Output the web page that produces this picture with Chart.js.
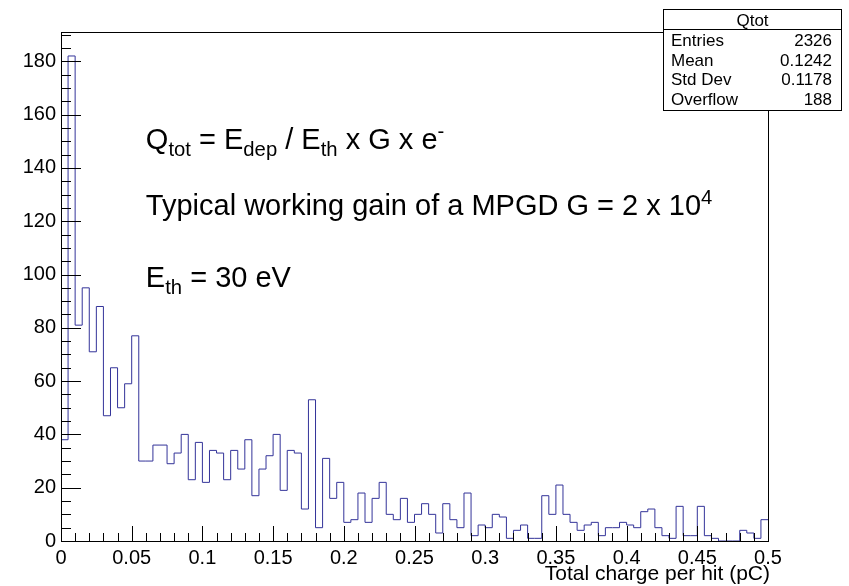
<!DOCTYPE html>
<html lang="en">
<head>
<meta charset="UTF-8">
<title>Qtot</title>
<script src="https://cdn.jsdelivr.net/npm/chart.js@4.4.1/dist/chart.umd.min.js"></script>
<style>
  html, body { margin: 0; padding: 0; background: #fff; }
  #wrap { width: 849px; height: 586px; }
</style>
</head>
<body>
<div id="wrap"><canvas id="myChart"></canvas></div>
<script>
// histogram: 100 bins from 0 to 0.5 pC
const binWidth = 0.005
const counts = [
  38, 182, 81, 95, 71, 88, 47, 65, 50, 59,
  77, 30, 30, 36, 36, 29, 33, 40, 23, 37,
  22, 34, 33, 23, 34, 27, 38, 17, 27, 32,
  40, 19, 34, 33, 12, 53, 5, 31, 16, 22,
  7, 8, 18, 7, 16, 22, 10, 8, 16, 7,
  10, 14, 10, 3, 14, 8, 5, 18, 2, 6,
  5, 10, 9, 1, 4, 6, 1, 1, 17, 10,
  21, 10, 7, 4, 6, 7, 2, 5, 5, 7,
  6, 5, 11, 12, 5, 2, 1, 13, 2, 2,
  13, 2, 1, 0, 0, 0, 4, 3, 1, 8
]
const xTicks = [0, 0.05, 0.1, 0.15, 0.2, 0.25, 0.3, 0.35, 0.4, 0.45, 0.5]
const xTickLabels = ['0', '0.05', '0.1', '0.15', '0.2', '0.25', '0.3', '0.35', '0.4', '0.45', '0.5']
const yTicks = [0, 20, 40, 60, 80, 100, 120, 140, 160, 180]
const yTickLabels = ['0', '20', '40', '60', '80', '100', '120', '140', '160', '180']
const xMinorStep = 0.01
const yMinorStep = 5
const yMax = 191

const statTitle = 'Qtot'
const statNames = ['Entries', 'Mean', 'Std Dev', 'Overflow']
const statValues = ['2326', '0.1242', '0.1178', '188']
const xTitle = 'Total charge per hit (pC)'

// annotation lines (sub / sup parts), placed in data coordinates
const noteX = 0.06
const noteY = [147, 122.5, 95.5]
const notes = [
  [['Q'], ['tot', 'sub'], [' = E'], ['dep', 'sub'], [' / E'], ['th', 'sub'], [' x G x e'], ['-', 'sup']],
  [['Typical working gain of a MPGD G = 2 x 10'], ['4', 'sup']],
  [['E'], ['th', 'sub'], [' = 30 eV']]
]

const FONT = '"Liberation Sans", Arial, Helvetica, sans-serif'

// step outline: one point per lower bin edge, plus the upper edge of the last bin
const points = counts.map((c, i) => ({ x: i * binWidth, y: c }))
points.push({ x: counts.length * binWidth, y: counts[counts.length - 1] })

function drawRich(ctx, x, y, parts, size) {
  let cx = x
  parts.forEach(p => {
    let fs = size, dy = 0
    if (p[1] === 'sub') { fs = size * 0.7; dy = 7 }
    if (p[1] === 'sup') { fs = size * 0.7; dy = -11 }
    ctx.font = fs + 'px ' + FONT
    ctx.fillText(p[0], cx, y + dy)
    cx += ctx.measureText(p[0]).width
  })
}

const rootFrame = {
  id: 'rootFrame',
  afterDatasetsDraw(chart) {
    const { ctx, chartArea: a, scales } = chart
    const xs = scales.x, ys = scales.y
    ctx.save()
    ctx.strokeStyle = '#000'
    ctx.fillStyle = '#000'
    ctx.lineWidth = 1

    ctx.strokeRect(Math.round(a.left) + 0.5, Math.round(a.top) + 0.5,
      Math.round(a.right - a.left), Math.round(a.bottom - a.top))

    // inward ticks
    ctx.beginPath()
    const nY = Math.floor(yMax / yMinorStep)
    for (let i = 0; i <= nY; i++) {
      const py = Math.round(ys.getPixelForValue(i * yMinorStep)) + 0.5
      const len = (i % 4 === 0) ? 20 : 10
      ctx.moveTo(a.left, py)
      ctx.lineTo(a.left + len, py)
    }
    const nX = Math.round(0.5 / xMinorStep)
    for (let i = 0; i <= nX; i++) {
      const px = Math.round(xs.getPixelForValue(i * xMinorStep)) + 0.5
      const len = (i % 5 === 0) ? 15 : 8
      ctx.moveTo(px, a.bottom)
      ctx.lineTo(px, a.bottom - len)
    }
    ctx.stroke()

    // axis title
    ctx.font = '21px ' + FONT
    ctx.textAlign = 'right'
    ctx.textBaseline = 'alphabetic'
    ctx.fillText(xTitle, a.right + 2, 580)

    // annotation text
    ctx.textAlign = 'left'
    notes.forEach((parts, k) => {
      drawRich(ctx, xs.getPixelForValue(noteX), ys.getPixelForValue(noteY[k]), parts, 29)
    })

    // stats box
    const bx = 663.5, by = 9.5, bw = 178, bh = 101
    ctx.fillStyle = '#fff'
    ctx.fillRect(bx, by, bw, bh)
    ctx.strokeRect(bx, by, bw, bh)
    ctx.beginPath()
    ctx.moveTo(bx, 29.5)
    ctx.lineTo(bx + bw, 29.5)
    ctx.stroke()
    ctx.fillStyle = '#000'
    ctx.font = '17px ' + FONT
    ctx.textAlign = 'center'
    ctx.fillText(statTitle, bx + bw / 2, 26)
    statNames.forEach((n, k) => {
      const ty = 46 + k * 19.5
      ctx.textAlign = 'left'
      ctx.fillText(n, 671, ty)
      ctx.textAlign = 'right'
      ctx.fillText(statValues[k], 832, ty)
    })
    ctx.restore()
  }
}

const ctx = document.getElementById('myChart').getContext('2d')
const myChart = new Chart(ctx, {
  type: 'line',
  data: {
    datasets: [{
      data: points,
      stepped: 'before',
      borderColor: '#333399',
      borderWidth: 1,
      pointRadius: 0,
      fill: false
    }]
  },
  options: {
    responsive: true,
    maintainAspectRatio: false,
    animation: false,
    layout: { padding: { left: 0, top: 32, right: 81, bottom: 0 } },
    plugins: { legend: { display: false }, tooltip: { enabled: false } },
    scales: {
      x: {
        type: 'linear',
        min: 0,
        max: 0.5,
        grid: { display: false, drawTicks: false },
        border: { display: false },
        afterBuildTicks: s => { s.ticks = xTicks.map(v => ({ value: v })) },
        afterFit: s => { s.height = 45 },
        ticks: {
          autoSkip: false,
          maxRotation: 0,
          padding: 5,
          color: '#000',
          font: { family: FONT, size: 20 },
          callback: (v, i) => xTickLabels[i]
        }
      },
      y: {
        min: 0,
        max: yMax,
        grid: { display: false, drawTicks: false },
        border: { display: false },
        afterBuildTicks: s => { s.ticks = yTicks.map(v => ({ value: v })) },
        afterFit: s => { s.width = 61 },
        ticks: {
          autoSkip: false,
          padding: 5,
          color: '#000',
          font: { family: FONT, size: 20 },
          callback: (v, i) => yTickLabels[i]
        }
      }
    }
  },
  plugins: [rootFrame]
})
</script>
</body>
</html>
